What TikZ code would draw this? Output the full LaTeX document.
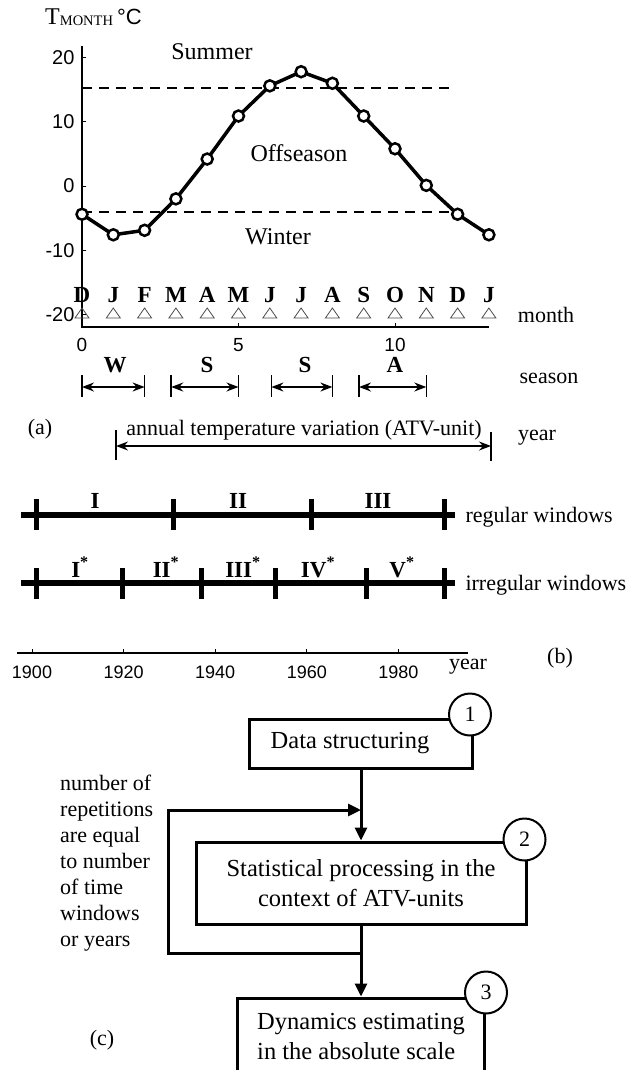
\documentclass[tikz,border=0pt]{standalone}
\usepackage{fontspec}
\setmainfont{Liberation Serif}
\setsansfont{Liberation Sans}
\usetikzlibrary{positioning, arrows.meta}

\tikzset{
  boxNode/.style={rectangle, draw, line width=3pt, font=\fontsize{24.5}{30}\selectfont},
  numNode/.style={circle, draw, line width=2pt, fill=white, minimum size=42pt, inner sep=0pt, font=\fontsize{22}{22}\selectfont},
  flowLine/.style={line width=3pt, -{Triangle[length=13pt, width=12pt]}},
  spanArrow/.style={line width=1.5pt, {Stealth[length=12pt, width=9pt, inset=4pt]}-{Stealth[length=12pt, width=9pt, inset=4pt]}},
  windowLine/.style={line width=6pt},
  windowTick/.style={line width=5pt},
  windowLbl/.style={anchor=base, inner sep=0pt, font=\bfseries\fontsize{23}{23}\selectfont},
  sansNum/.style={font=\sffamily\fontsize{20}{20}\selectfont}
}

\begin{document}
\begin{tikzpicture}[x=1pt, y=-1pt, font=\fontsize{22}{26}\selectfont]
  \useasboundingbox (0,0) rectangle (638,1070);

  % (a) monthly temperature curve
  \node[anchor=west, inner sep=0pt, font=\fontsize{24}{24}\selectfont] (tTitle) at (45,17)
    {T\raisebox{-1.5pt}{\fontsize{14.5}{14.5}\selectfont MONTH}\,{\sffamily\fontsize{22}{22}\selectfont °C}};
  \draw[line width=2pt] (82,46) -- (82,327) -- (489,327);
  \foreach \t/\yy [count=\i] in {20/57.6, 10/121.8, 0/186, -10/250.2, -20/314.4} {
    \draw[line width=1pt] (82,\yy) -- (86,\yy);
    \node[sansNum, anchor=east] (yTick\i) at (78,\yy) {\t};
  }
  \foreach \m/\xx [count=\i] in {0/82, 5/238.5, 10/395} {
    \draw[line width=1pt] (\xx,327) -- (\xx,323);
    \node[sansNum, font=\sffamily\fontsize{19}{19}\selectfont] (xTick\i) at (\xx,345) {\m};
  }
  \draw[line width=2pt, dash pattern=on 10pt off 7pt] (82,88) -- (450,88);
  \draw[line width=2pt, dash pattern=on 10pt off 7pt] (82,212) -- (450,212);

  \begin{scope}[shift={(82,186)}, x=31.3pt, y=6.42pt]
    \draw[line width=3.5pt, line join=round] plot coordinates {(0,-4.4) (1,-7.6) (2,-6.9) (3,-2) (4,4.2) (5,10.9) (6,15.6) (7,17.8) (8,16) (9,10.9) (10,5.8) (11,0.1) (12,-4.4) (13,-7.6)};
    \foreach \m/\t in {0/-4.4, 1/-7.6, 2/-6.9, 3/-2, 4/4.2, 5/10.9, 6/15.6, 7/17.8, 8/16, 9/10.9, 10/5.8, 11/0.1, 12/-4.4, 13/-7.6}
      \draw[line width=2.5pt, fill=white] (\m,\t) circle (5.5pt);
  \end{scope}

  \node (summerLbl) at (212,52) {\fontsize{24}{24}\selectfont Summer};
  \node (offLbl) at (299,153) {\fontsize{24}{24}\selectfont Offseason};
  \node (winterLbl) at (278,237) {\fontsize{24}{24}\selectfont Winter};

  \foreach \mon [count=\i from 0] in {D,J,F,M,A,M,J,J,A,S,O,N,D,J} {
    \node[font=\bfseries\fontsize{23}{23}\selectfont] (mon\i) at ({82+31.3*\i},295) {\mon};
    \draw[gray!60!black, line width=0.8pt] ({82+31.3*\i-7},318) -- ++(14,0) -- ++(-7,-10) -- cycle;
  }
  \node (monthLbl) at (546,315) {month};

  % seasons
  \foreach \xa/\xb/\s/\xs [count=\i] in {82/144.6/W/115, 171.2/238.5/S/207, 271.4/332.4/S/305, 359/426.3/A/395} {
    \draw[line width=1.5pt] (\xa,375) -- (\xa,397);
    \draw[line width=1.5pt] (\xb,375) -- (\xb,397);
    \draw[spanArrow] (\xa,387) -- (\xb,387);
    \node[font=\bfseries\fontsize{23}{23}\selectfont] (season\i) at (\xs,365) {\s};
  }
  \node (seasonLbl) at (549,378) {season};

  \node (aLbl) at (40,429) {(a)};
  \draw[line width=1.5pt] (116,430) -- (116,460);
  \draw[line width=1.5pt] (491,432) -- (491,461);
  \draw[spanArrow] (116,446) -- (491,446);
  \node (atvLbl) at (304,430) {annual temperature variation (ATV-unit)};
  \node (yearLbl) at (537,438) {year};

  % (b) time windows
  \draw[windowLine] (21,515) -- (455,515);
  \foreach \xx in {36,173,311,444}
    \draw[windowTick] (\xx,499) -- (\xx,530);
  \foreach \w/\xx [count=\i] in {I/95, II/238, III/378}
    \node[windowLbl] (reg\i) at (\xx,508) {\w};
  \node[anchor=west] (regLbl) at (462,517) {regular windows};

  \draw[windowLine] (21,583) -- (455,583);
  \foreach \xx in {36,122,201,275,366,444}
    \draw[windowTick] (\xx,568) -- (\xx,599);
  \foreach \w/\xx [count=\i] in {I/80, II/166, III/243, IV/318, V/402}
    \node[windowLbl] (irr\i) at (\xx,577) {\w\textsuperscript{*}};
  \node[anchor=west] (irrLbl) at (462,585) {irregular windows};

  \draw[line width=1.5pt] (17,653) -- (468,653);
  \foreach \yr [count=\i from 0] in {1900,1920,1940,1960,1980} {
    \draw[line width=1pt] ({32+91.6*\i},653) -- ({32+91.6*\i},649);
    \node[sansNum, font=\sffamily\fontsize{18}{18}\selectfont] (yr\i) at ({32+91.6*\i},672) {\yr};
  }
  \node (axisYearLbl) at (468,667) {year};
  \node (bLbl) at (560,658) {(b)};

  % (c) processing scheme
  \node[boxNode, minimum width=223pt, minimum height=49pt] (dataNode) at (361,743.5) {Data structuring\hspace*{22pt}};
  \node[boxNode, minimum width=330pt, minimum height=82pt, align=center] (statNode) [below = 71pt of dataNode] {Statistical processing in the\\context of ATV-units};
  \node[boxNode, minimum width=247pt, minimum height=76pt, align=left] (dynNode) [below = 71pt of statNode] {Dynamics estimating\\in the absolute scale};

  \node[numNode] (oneNode) at ([xshift=-4pt, yshift=3pt]dataNode.north east) {1};
  \node[numNode] (twoNode) at ([xshift=-3pt, yshift=1pt]statNode.north east) {2};
  \node[numNode] (threeNode) at ([yshift=4pt]dynNode.north east) {3};

  \coordinate (joinPt) at (361,953);
  \coordinate (loopLow) at (168,953);
  \coordinate (loopHigh) at (168,810);
  \coordinate (backPt) at (361,810);

  \draw[flowLine] (dataNode) -- (statNode);
  \draw[line width=3pt] (statNode) -- (joinPt);
  \draw[flowLine] (joinPt) -- (loopLow) -- (loopHigh) -- (backPt);
  \draw[flowLine] (joinPt) -- (dynNode);

  \node[anchor=west, inner sep=0pt, align=left] (repNote) at (60,863) {number of\\repetitions\\are equal\\to number\\of time\\windows\\or years};
  \node (cLbl) at (102,1040) {(c)};
\end{tikzpicture}
\end{document}
